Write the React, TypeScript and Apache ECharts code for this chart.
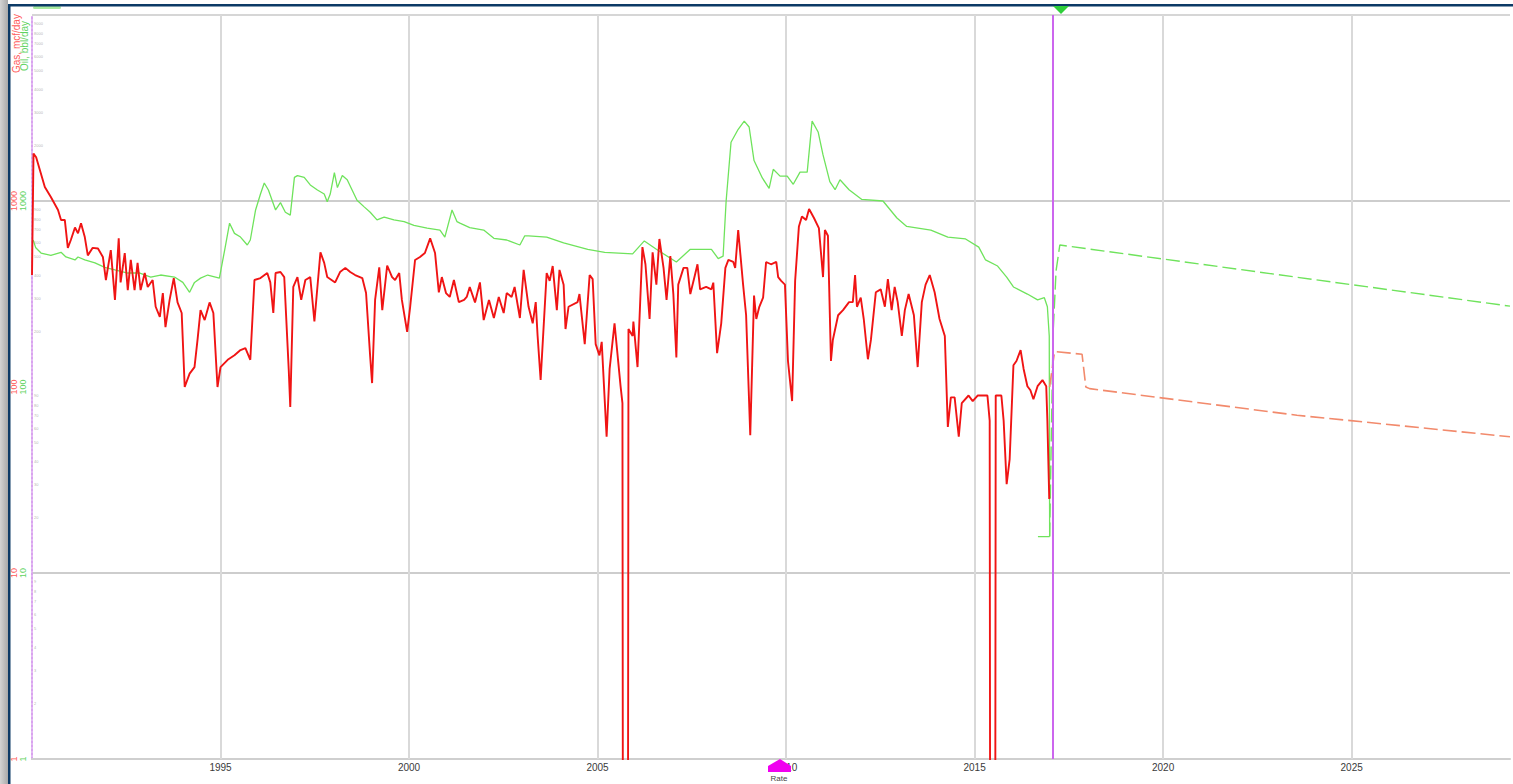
import React, { useEffect, useRef } from "react";
import * as echarts from "echarts";

// Monthly gas rate history [decimal year, Mcf/day]; 0.01 marks months with no gas sales
const gasHistory: [number, number][] = [
  [1990.0, 400], [1990.04, 1800], [1990.11, 1720], [1990.34, 1190], [1990.5, 1050],
  [1990.69, 895], [1990.77, 791], [1990.87, 791], [1990.95, 560], [1991.03, 617],
  [1991.14, 720], [1991.22, 670], [1991.3, 760], [1991.4, 640], [1991.48, 510],
  [1991.61, 560], [1991.75, 555], [1991.88, 500], [1991.96, 376], [1992.09, 545],
  [1992.2, 294], [1992.3, 630], [1992.35, 365], [1992.46, 525], [1992.54, 332],
  [1992.62, 482], [1992.72, 332], [1992.8, 465], [1992.88, 332], [1992.99, 410],
  [1993.07, 345], [1993.2, 376], [1993.28, 270], [1993.39, 238], [1993.47, 320],
  [1993.54, 210], [1993.65, 294], [1993.76, 385], [1993.86, 285], [1993.97, 250],
  [1994.05, 100], [1994.18, 118], [1994.31, 128], [1994.39, 179], [1994.47, 259],
  [1994.58, 229], [1994.71, 285], [1994.81, 250], [1994.92, 100], [1995.0, 128],
  [1995.19, 140], [1995.37, 148], [1995.53, 158], [1995.66, 162], [1995.79, 140],
  [1995.9, 376], [1996.06, 385], [1996.24, 410], [1996.32, 365], [1996.4, 250],
  [1996.46, 410], [1996.59, 415], [1996.69, 390], [1996.81, 123], [1996.85, 78],
  [1996.93, 345], [1997.04, 390], [1997.14, 294], [1997.25, 376], [1997.38, 390],
  [1997.49, 225], [1997.65, 530], [1997.75, 465], [1997.83, 390], [1998.04, 365],
  [1998.17, 415], [1998.31, 437], [1998.44, 415], [1998.57, 400], [1998.76, 385],
  [1998.86, 320], [1998.97, 145], [1999.02, 105], [1999.1, 294], [1999.21, 440],
  [1999.29, 259], [1999.42, 450], [1999.55, 390], [1999.63, 376], [1999.74, 410],
  [1999.81, 294], [1999.95, 198], [2000.03, 270], [2000.16, 482], [2000.29, 500],
  [2000.42, 525], [2000.56, 630], [2000.69, 525], [2000.79, 323], [2000.87, 390],
  [2000.98, 320], [2001.08, 305], [2001.19, 376], [2001.32, 286], [2001.46, 294],
  [2001.53, 305], [2001.61, 345], [2001.75, 285], [2001.88, 365], [2001.98, 229],
  [2002.12, 294], [2002.25, 235], [2002.38, 305], [2002.51, 250], [2002.59, 320],
  [2002.72, 305], [2002.8, 345], [2002.94, 235], [2003.04, 426], [2003.17, 270],
  [2003.28, 220], [2003.36, 286], [2003.41, 188], [2003.49, 109], [2003.65, 410],
  [2003.73, 372], [2003.81, 447], [2003.92, 259], [2003.99, 426], [2004.1, 355],
  [2004.15, 205], [2004.23, 270], [2004.47, 286], [2004.52, 316], [2004.66, 170],
  [2004.79, 400], [2004.87, 380], [2004.95, 170], [2005.05, 148], [2005.11, 175],
  [2005.24, 54], [2005.32, 125], [2005.45, 220], [2005.61, 101], [2005.66, 82],
  [2005.68, 0.01], [2005.8, 0.01], [2005.82, 205], [2005.93, 188], [2005.95, 225],
  [2006.06, 128], [2006.19, 565], [2006.27, 457], [2006.38, 232], [2006.46, 530],
  [2006.56, 355], [2006.64, 625], [2006.75, 437], [2006.83, 294], [2006.93, 505],
  [2007.01, 316], [2007.09, 144], [2007.14, 355], [2007.28, 437], [2007.38, 437],
  [2007.46, 316], [2007.57, 390], [2007.65, 457], [2007.72, 335], [2007.88, 345],
  [2008.02, 335], [2008.07, 364], [2008.17, 152], [2008.28, 220], [2008.39, 437],
  [2008.47, 482], [2008.6, 470], [2008.65, 437], [2008.73, 698], [2008.86, 355],
  [2008.94, 243], [2009.05, 55], [2009.15, 310], [2009.21, 232], [2009.29, 270],
  [2009.39, 302], [2009.47, 470], [2009.6, 457], [2009.74, 470], [2009.79, 390],
  [2009.87, 372], [2009.97, 355], [2010.05, 138], [2010.16, 84], [2010.24, 372],
  [2010.34, 730], [2010.42, 825], [2010.53, 790], [2010.61, 905], [2010.74, 810],
  [2010.87, 715], [2010.98, 390], [2011.03, 698], [2011.11, 650], [2011.19, 138],
  [2011.24, 179], [2011.38, 243], [2011.51, 259], [2011.67, 286], [2011.77, 286],
  [2011.83, 400], [2011.88, 270], [2011.98, 302], [2012.06, 232], [2012.17, 141],
  [2012.25, 179], [2012.38, 323], [2012.51, 335], [2012.62, 270], [2012.7, 380],
  [2012.8, 259], [2012.88, 345], [2012.96, 286], [2013.07, 188], [2013.15, 259],
  [2013.25, 316], [2013.39, 243], [2013.49, 128], [2013.6, 286], [2013.7, 355],
  [2013.81, 400], [2013.94, 323], [2014.07, 232], [2014.21, 188], [2014.29, 61],
  [2014.37, 88], [2014.47, 88], [2014.58, 54], [2014.66, 82], [2014.84, 90],
  [2014.95, 84], [2015.08, 90], [2015.21, 90], [2015.34, 90], [2015.4, 66],
  [2015.42, 0.01], [2015.54, 0.01], [2015.56, 90], [2015.71, 90], [2015.77, 66],
  [2015.85, 30], [2015.93, 41], [2016.03, 131], [2016.11, 138], [2016.22, 158],
  [2016.3, 125], [2016.4, 101], [2016.48, 96], [2016.56, 86], [2016.67, 101],
  [2016.8, 109], [2016.9, 101], [2016.93, 66], [2016.98, 25],
];

// Monthly oil rate history [decimal year, bbl/day]
const oilHistory: [number, number][] = [
  [1990.03, 617], [1990.1, 560], [1990.24, 525], [1990.5, 510], [1990.77, 530],
  [1990.9, 500], [1991.14, 482], [1991.22, 500], [1991.4, 482], [1991.67, 465],
  [1991.93, 440], [1992.2, 426], [1992.54, 410], [1992.86, 410], [1993.15, 390],
  [1993.41, 400], [1993.78, 390], [1994.0, 365], [1994.18, 323], [1994.31, 365],
  [1994.47, 385], [1994.66, 400], [1994.97, 385], [1995.11, 545], [1995.24, 760],
  [1995.37, 670], [1995.53, 640], [1995.71, 580], [1995.79, 617], [1995.93, 895],
  [1996.06, 1090], [1996.16, 1250], [1996.27, 1146], [1996.46, 895], [1996.59, 980],
  [1996.72, 870], [1996.85, 840], [1996.96, 1340], [1997.04, 1370], [1997.22, 1340],
  [1997.38, 1220], [1997.57, 1146], [1997.75, 1090], [1997.83, 990], [1997.91, 1090],
  [1998.02, 1420], [1998.1, 1180], [1998.23, 1370], [1998.36, 1300], [1998.49, 1146],
  [1998.62, 1010], [1998.81, 930], [1998.97, 870], [1999.15, 791], [1999.34, 820],
  [1999.6, 791], [1999.87, 775], [2000.13, 740], [2000.48, 715], [2000.82, 698],
  [2000.95, 640], [2001.14, 895], [2001.27, 775], [2001.35, 760], [2001.61, 720],
  [2001.98, 698], [2002.25, 630], [2002.59, 617], [2002.94, 580], [2003.07, 650],
  [2003.17, 650], [2003.65, 640], [2004.1, 595], [2004.74, 550], [2005.19, 530],
  [2005.93, 520], [2006.24, 610], [2006.56, 550], [2007.09, 470], [2007.46, 550],
  [2008.02, 550], [2008.2, 490], [2008.33, 505], [2008.41, 1000], [2008.54, 2070],
  [2008.73, 2430], [2008.89, 2690], [2009.02, 2500], [2009.15, 1650], [2009.37, 1330],
  [2009.55, 1170], [2009.66, 1480], [2009.84, 1360], [2010.03, 1360], [2010.19, 1230],
  [2010.37, 1430], [2010.56, 1430], [2010.69, 2690], [2010.85, 2350], [2010.98, 1770],
  [2011.16, 1270], [2011.3, 1150], [2011.43, 1300], [2011.67, 1150], [2012.01, 1020],
  [2012.57, 1000], [2012.94, 810], [2013.2, 730], [2013.84, 698], [2014.29, 640],
  [2014.76, 625], [2015.11, 565], [2015.29, 482], [2015.61, 447], [2015.85, 390],
  [2016.03, 345], [2016.4, 316], [2016.67, 294], [2016.85, 302], [2016.93, 270],
  [2016.98, 188], [2016.99, 15.7],
];

// Last reported oil month
const oilLastMonth: [number, number][] = [[2016.68, 15.7], [2016.99, 15.7]];

// Forecasts from the start of 2017
const gasForecast: [number, number][] = [
  [2016.99, 100], [2017.12, 155], [2017.85, 150], [2017.95, 100], [2018.05, 98],
  [2023.55, 70.5], [2029.2, 54],
];
const oilForecast: [number, number][] = [
  [2016.99, 15.7], [2017.08, 190], [2017.16, 420], [2017.26, 580], [2023.0, 403],
  [2029.2, 272],
];

// Forecast start date
const forecastStart = 2017.06;

// Years with a vertical grid line
const gridYears: number[] = [1995, 2000, 2005, 2010, 2015, 2020, 2025];

// Minor decade values that carry small tick labels on the rate axis
const minorValues: number[] = [
  2, 3, 4, 5, 6, 7, 8, 9,
  20, 30, 40, 50, 60, 70, 80, 90,
  200, 300, 400, 500, 600, 700, 800, 900,
  2000, 3000, 4000, 5000, 6000, 7000, 8000, 9000,
];

const FONT = "Liberation Sans";
const NONE = "rgba(0,0,0,0)";

export default function App() {
  const ref = useRef<HTMLDivElement>(null);

  useEffect(() => {
    if (!ref.current) return;
    const chart = echarts.init(ref.current, undefined, { renderer: "svg" });

    const logAxis = {
      type: "log",
      logBase: 10,
      min: 1,
      max: 10000,
      position: "left",
      offset: 0,
      axisTick: { show: false },
    };

    chart.setOption({
      animation: false,
      backgroundColor: "#ffffff",
      grid: { left: 32, right: 0, top: 15, bottom: 25, containLabel: false, show: false },
      xAxis: {
        type: "value",
        min: 1990,
        max: 2029.2,
        interval: 5,
        axisLine: { show: true, lineStyle: { color: "#cfcfcf", width: 2 } },
        axisTick: { show: false },
        axisLabel: {
          margin: 3,
          fontFamily: FONT,
          fontSize: 10,
          color: "#3a3a3a",
          formatter: (v: number) => (v % 5 === 0 && v !== 1990 ? String(v) : ""),
        },
        splitLine: { show: false },
      },
      yAxis: [
        {
          ...logAxis,
          axisLine: { show: true, lineStyle: { color: "#d9a3ef", type: "dotted", width: 2 } },
          axisLabel: {
            rotate: 90,
            margin: 14,
            fontFamily: FONT,
            fontSize: 9,
            color: "#ff5a5a",
            formatter: (v: number) => (v >= 10000 ? "" : String(v)),
          },
          splitLine: {
            show: true,
            lineStyle: {
              width: 2,
              color: ["#cdcdcd", "#cdcdcd", NONE, "#cdcdcd", "#d6d6d6"],
            },
          },
        },
        {
          ...logAxis,
          axisLine: { show: false, onZero: false },
          splitLine: { show: false },
          axisLabel: {
            rotate: 90,
            margin: 5,
            fontFamily: FONT,
            fontSize: 9,
            color: "#5fd35f",
            formatter: (v: number) => (v >= 10000 ? "" : String(v)),
          },
        },
      ],
      series: [
        {
          name: "Minor ticks",
          type: "scatter",
          xAxisIndex: 0,
          yAxisIndex: 0,
          silent: true,
          symbolSize: 0,
          data: minorValues.map((v) => [1990, v]),
          label: {
            show: true,
            position: "right",
            distance: 2,
            fontFamily: FONT,
            fontSize: 4,
            color: "#a0a0a0",
            formatter: (p: any) => String(p.value[1]),
          },
          z: 1,
          markLine: {
            silent: true,
            z: 1,
            symbol: ["none", "none"],
            label: { show: false },
            lineStyle: { color: "#d9d9d9", width: 2, type: "solid" },
            data: gridYears.map((y) => ({ xAxis: y })),
          },
        },
        {
          name: "Oil, bbl/day",
          type: "line",
          yAxisIndex: 0,
          data: oilHistory,
          symbol: "none",
          lineStyle: { color: "#6fe35c", width: 1.3 },
          z: 3,
        },
        {
          name: "Oil, last month",
          type: "line",
          yAxisIndex: 0,
          data: oilLastMonth,
          symbol: "none",
          lineStyle: { color: "#6fe35c", width: 1.3 },
          z: 3,
        },
        {
          name: "Gas, mcf/day",
          type: "line",
          yAxisIndex: 0,
          data: gasHistory,
          symbol: "none",
          lineStyle: { color: "#f01414", width: 1.9 },
          z: 4,
        },
        {
          name: "Oil forecast",
          type: "line",
          yAxisIndex: 0,
          data: oilForecast,
          symbol: "none",
          lineStyle: { color: "#6fe35c", width: 1.4, type: [14, 5] },
          z: 3,
        },
        {
          name: "Gas forecast",
          type: "line",
          yAxisIndex: 0,
          data: gasForecast,
          symbol: "none",
          lineStyle: { color: "#f28a6c", width: 1.6, type: [14, 5] },
          z: 4,
          markLine: {
            silent: true,
            symbol: ["none", "none"],
            label: { show: false },
            lineStyle: { color: "#cc66ee", width: 2, type: "solid" },
            data: [{ xAxis: forecastStart }],
          },
        },
      ],
      graphic: [
        // window frame
        {
          type: "rect",
          shape: { x: 0, y: 0, width: 8, height: 784 },
          style: {
            fill: new echarts.graphic.LinearGradient(0, 0, 1, 0, [
              { offset: 0, color: "#d4d4d4" },
              { offset: 1, color: "#a9a9a9" },
            ]),
          },
          z: 100,
        },
        {
          type: "rect",
          shape: { x: 8, y: 4, width: 2.5, height: 780 },
          style: { fill: "#0c3a66" },
          z: 101,
        },
        {
          type: "rect",
          shape: { x: 8, y: 4, width: 1505, height: 2.5 },
          style: { fill: "#0c3a66" },
          z: 101,
        },
        {
          type: "rect",
          shape: { x: 33, y: 6, width: 28, height: 3, r: 1.5 },
          style: { fill: "#a6eaa0" },
          z: 100,
        },
        // axis titles
        {
          type: "text",
          x: 16,
          y: 73,
          rotation: Math.PI / 2,
          style: {
            text: "Gas, mcf/day",
            font: `10px ${FONT}`,
            fill: "#ff5a5a",
            align: "left",
            verticalAlign: "middle",
            textAlign: "left",
            textVerticalAlign: "middle",
          },
          z: 100,
        },
        {
          type: "text",
          x: 24.5,
          y: 71,
          rotation: Math.PI / 2,
          style: {
            text: "Oil, bbl/day",
            font: `10px ${FONT}`,
            fill: "#5fd35f",
            align: "left",
            verticalAlign: "middle",
            textAlign: "left",
            textVerticalAlign: "middle",
          },
          z: 100,
        },
        // forecast-start marker at the top
        {
          type: "polygon",
          shape: { points: [[1053, 6], [1069, 6], [1061, 14]] },
          style: { fill: "#2fcf3a" },
          z: 102,
        },
        // date slider marker on the time axis
        {
          type: "polygon",
          shape: {
            points: [[780, 759], [791, 766], [791, 772], [768, 772], [768, 766]],
          },
          style: { fill: "#f000f0" },
          z: 102,
        },
        {
          type: "text",
          x: 779,
          y: 778,
          style: {
            text: "Rate",
            font: `8px ${FONT}`,
            fill: "#444444",
            align: "center",
            verticalAlign: "middle",
            textAlign: "center",
            textVerticalAlign: "middle",
          },
          z: 102,
        },
      ],
    });

    return () => chart.dispose();
  }, []);

  return (
    <div
      ref={ref}
      style={{
        position: "fixed",
        left: 0,
        top: 0,
        width: 1513,
        height: 784,
        background: "#ffffff",
        overflow: "hidden",
      }}
    />
  );
}
